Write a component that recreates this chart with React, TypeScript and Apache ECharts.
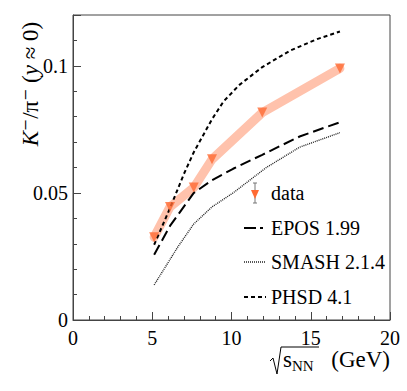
import React, { useEffect, useRef } from "react";
import * as echarts from "echarts";

// NA61/SHINE-like data: sqrt(s_NN) energies and K-/pi- ratio
const energies = [5.12, 6.12, 7.62, 8.77, 11.94, 16.84];
const dataRatio = [0.0326, 0.0445, 0.0521, 0.0632, 0.0816, 0.099];

const eposX = [5.12, 6.12, 7.62, 8.77, 10.1, 11.94, 14.3, 16.84];
const eposY = [0.0257, 0.037, 0.05, 0.055, 0.0595, 0.065, 0.0722, 0.0778];

const smashX = [5.12, 6.63, 7.62, 8.77, 10.1, 12.2, 14.3, 16.84];
const smashY = [0.0138, 0.0289, 0.0378, 0.0445, 0.05, 0.06, 0.068, 0.0737];

const phsdX = [5.12, 6.12, 7.0, 7.62, 8.77, 9.5, 10.5, 11.94, 13.7, 15.4, 16.84];
const phsdY = [0.0296, 0.044, 0.0575, 0.066, 0.079, 0.086, 0.0925, 0.0995, 0.106, 0.1105, 0.1135];

const legendNames = ["data", "EPOS 1.99", "SMASH 2.1.4", "PHSD 4.1"];
const xTickLabels = ["0", "5", "10", "15", "20"];
const yTickLabels = ["0", "0.05", "0.1"];

const FONT = "Liberation Serif, DejaVu Serif, serif";
const MARK = "#ff6a33";
const BAND = "#ffc2ac";

const pairs = (xs: number[], ys: number[]) => xs.map((x, i) => [x, ys[i]]);

export default function App() {
  const ref = useRef<HTMLDivElement>(null);
  useEffect(() => {
    if (!ref.current) return;
    const chart = echarts.init(ref.current, null, { renderer: "svg" });
    const legX = 244;
    const legTextX = 271;
    const legY = [193, 228, 262, 297];
    const option: any = {
      animation: false,
      backgroundColor: "#ffffff",
      textStyle: { fontFamily: FONT },
      grid: {
        left: 73,
        top: 15,
        right: 17,
        bottom: 71,
        show: true,
        borderColor: "#444",
        borderWidth: 1,
        backgroundColor: "transparent",
      },
      xAxis: [
        {
          type: "value",
          min: 0,
          max: 20,
          interval: 5,
          axisLine: { show: true, lineStyle: { color: "#444", width: 1 } },
          axisTick: { show: true, inside: true, length: 8, lineStyle: { color: "#444" } },
          minorTick: { show: true, splitNumber: 5, length: 4, lineStyle: { color: "#444" } },
          splitLine: { show: false },
          axisLabel: {
            margin: 8,
            fontFamily: FONT,
            fontSize: 20,
            color: "#000",
            formatter: (v: number) => xTickLabels[Math.round(v / 5)] ?? "",
          },
        },
      ],
      yAxis: [
        {
          type: "value",
          min: 0,
          max: 0.12,
          interval: 0.01,
          position: "left",
          axisLine: { show: true, lineStyle: { color: "#444", width: 1 } },
          axisTick: { show: true, inside: true, length: 4, lineStyle: { color: "#444" } },
          splitLine: { show: false },
          axisLabel: {
            margin: 5,
            fontFamily: FONT,
            fontSize: 20,
            color: "#000",
            showMaxLabel: false,
            formatter: (v: number) => {
              const k = Math.round(v * 100);
              if (k % 5 !== 0) return "";
              return yTickLabels[k / 5] ?? "";
            },
          },
        },
        {
          type: "value",
          min: 0,
          max: 0.12,
          interval: 0.05,
          position: "left",
          axisLine: { show: false },
          axisTick: { show: true, inside: true, length: 8, lineStyle: { color: "#444" } },
          splitLine: { show: false },
          axisLabel: { show: false },
        },
      ],
      series: [
        {
          name: "band",
          type: "line",
          data: pairs(energies, dataRatio),
          showSymbol: false,
          symbol: "none",
          lineStyle: { color: BAND, width: 9, join: "round", cap: "round" },
          z: 2,
        },
        {
          name: "EPOS 1.99",
          type: "line",
          data: pairs(eposX, eposY),
          symbol: "none",
          lineStyle: { color: "#000", width: 2, type: [11, 5] },
          z: 3,
        },
        {
          name: "SMASH 2.1.4",
          type: "line",
          data: pairs(smashX, smashY),
          symbol: "none",
          lineStyle: { color: "#222", width: 1.4, type: [1, 1] },
          z: 3,
        },
        {
          name: "PHSD 4.1",
          type: "line",
          data: pairs(phsdX, phsdY),
          symbol: "none",
          lineStyle: { color: "#000", width: 2, type: [4, 3] },
          z: 3,
        },
        {
          name: "data",
          type: "scatter",
          data: pairs(energies, dataRatio),
          symbol: "triangle",
          symbolRotate: 180,
          symbolSize: 10,
          itemStyle: { color: MARK },
          z: 5,
        },
      ],
      graphic: [
        // legend: data
        { type: "line", shape: { x1: legX + 11, y1: legY[0] - 10, x2: legX + 11, y2: legY[0] + 10 }, style: { stroke: "#777", lineWidth: 1 } },
        { type: "line", shape: { x1: legX + 9, y1: legY[0] - 10, x2: legX + 13, y2: legY[0] - 10 }, style: { stroke: "#777", lineWidth: 1 } },
        { type: "line", shape: { x1: legX + 9, y1: legY[0] + 10, x2: legX + 13, y2: legY[0] + 10 }, style: { stroke: "#777", lineWidth: 1 } },
        { type: "polygon", shape: { points: [[legX + 7, legY[0] - 3], [legX + 15, legY[0] - 3], [legX + 11, legY[0] + 6]] }, style: { fill: MARK } },
        // EPOS
        { type: "line", shape: { x1: legX, y1: legY[1], x2: legX + 22, y2: legY[1] }, style: { stroke: "#000", lineWidth: 2, lineDash: [12, 4, 3, 10] } },
        // SMASH
        { type: "line", shape: { x1: legX, y1: legY[2], x2: legX + 22, y2: legY[2] }, style: { stroke: "#222", lineWidth: 1.4, lineDash: [1, 1] } },
        // PHSD
        { type: "line", shape: { x1: legX, y1: legY[3], x2: legX + 22, y2: legY[3] }, style: { stroke: "#000", lineWidth: 2, lineDash: [4, 3] } },
        ...legendNames.map((n, i) => ({
          type: "text",
          x: legTextX,
          y: legY[i],
          style: { text: n, fontFamily: FONT, fontSize: 20, fill: "#000", align: "left", verticalAlign: "middle" },
        })),
        // y-axis title
        {
          type: "text",
          x: 30,
          y: 84,
          rotation: Math.PI / 2,
          style: {
            text: "{i|K}{n|⁻/π⁻ (}{i|y}{n| ≈ 0)}",
            align: "center",
            verticalAlign: "middle",
            rich: {
              i: { fontFamily: FONT, fontSize: 23, fontStyle: "italic", fill: "#000" },
              n: { fontFamily: FONT, fontSize: 23, fill: "#000" },
            },
          },
        },
        // x-axis title: radical sign + text
        {
          type: "polyline",
          shape: { points: [[270, 361], [273, 358], [277, 374], [281, 347], [319, 347]] },
          style: { stroke: "#000", lineWidth: 1, fill: "none" },
        },
        {
          type: "text",
          x: 283,
          y: 359,
          style: {
            text: "{s|s}{sub|NN}",
            align: "left",
            verticalAlign: "middle",
            rich: {
              s: { fontFamily: FONT, fontSize: 23, fill: "#000", lineHeight: 28 },
              sub: { fontFamily: FONT, fontSize: 15, fill: "#000", lineHeight: 28, verticalAlign: "bottom", padding: [9, 0, 0, 0] },
            },
          },
        },
        {
          type: "text",
          x: 390,
          y: 359,
          style: {
            text: "(GeV)",
            align: "right",
            verticalAlign: "middle",
            fontFamily: FONT,
            fontSize: 23,
            fill: "#000",
          },
        },
      ],
    };
    chart.setOption(option);
    return () => chart.dispose();
  }, []);
  return <div ref={ref} style={{ width: 407, height: 391, position: "absolute", left: 0, top: 0 }} />;
}
